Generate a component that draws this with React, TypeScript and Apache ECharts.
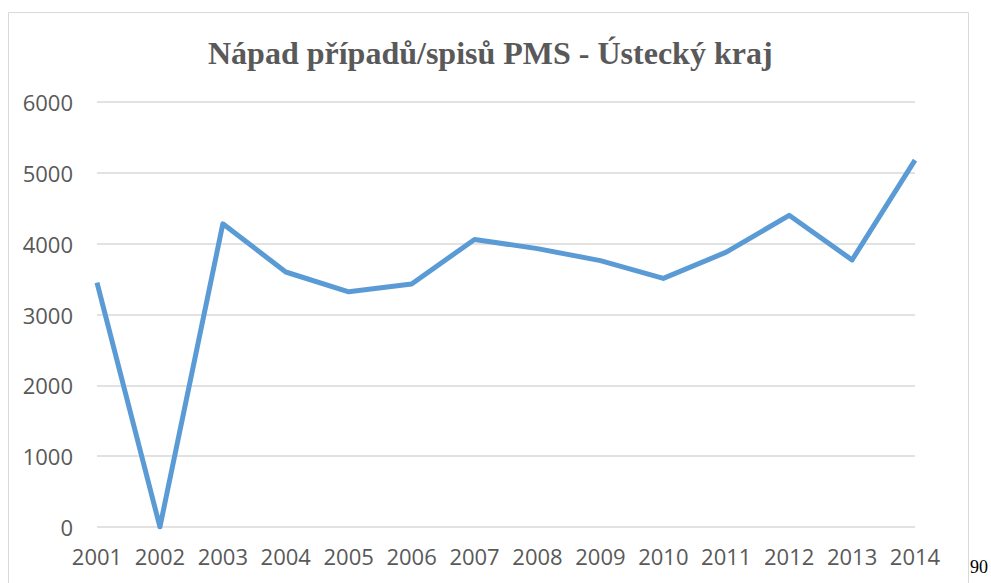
import React, { useEffect, useRef } from "react";
import * as echarts from "echarts";

const TITLE = "Nápad případů/spisů PMS - Ústecký kraj";
const YEARS = ["2001", "2002", "2003", "2004", "2005", "2006", "2007", "2008", "2009", "2010", "2011", "2012", "2013", "2014"];
const VALUES = [3450, 0, 4280, 3600, 3320, 3430, 4060, 3930, 3760, 3510, 3880, 4400, 3770, 5180];
const PAGE_NUMBER = "90";

export default function App() {
  const ref = useRef<HTMLDivElement>(null);
  useEffect(() => {
    if (!ref.current) return;
    const chart = echarts.init(ref.current, null, { renderer: "svg" });
    chart.setOption({
      animation: false,
      backgroundColor: "#ffffff",
      title: {
        text: TITLE,
        left: 203,
        top: 32,
        textStyle: {
          fontFamily: "Liberation Serif",
          fontWeight: "bold",
          fontSize: 32,
          color: "#595959",
        },
      },
      grid: { left: 97, right: 76, top: 102, bottom: 56 },
      xAxis: {
        type: "category",
        data: YEARS,
        boundaryGap: false,
        axisLine: { show: false },
        axisTick: { show: false },
        axisLabel: {
          interval: 0,
          hideOverlap: false,
          margin: 18,
          fontFamily: "Open Sans",
          fontSize: 22,
          color: "#595959",
        },
      },
      yAxis: {
        type: "value",
        min: 0,
        max: 6000,
        interval: 1000,
        axisLine: { show: false },
        axisTick: { show: false },
        splitLine: { lineStyle: { color: "#d9d9d9", width: 1.5 } },
        axisLabel: {
          margin: 24,
          fontFamily: "Open Sans",
          fontSize: 22,
          color: "#595959",
          formatter: (v: number) => String(v),
        },
      },
      series: [
        {
          type: "line",
          data: VALUES,
          showSymbol: false,
          symbol: "none",
          lineStyle: { color: "#5b9bd5", width: 5, join: "round", cap: "butt" },
        },
      ],
      graphic: [
        {
          type: "rect",
          shape: { x: 8.5, y: 12.5, width: 960, height: 620 },
          style: { fill: "none", stroke: "#d9d9d9", lineWidth: 1 },
          silent: true,
        },
        {
          type: "text",
          left: 970,
          top: 558,
          style: {
            text: PAGE_NUMBER,
            fontFamily: "Liberation Serif",
            fontSize: 18,
            fill: "#000000",
          },
        },
      ],
    });
    return () => chart.dispose();
  }, []);
  return (
    <div
      ref={ref}
      style={{ position: "absolute", left: 0, top: 0, width: 991, height: 583 }}
    />
  );
}
